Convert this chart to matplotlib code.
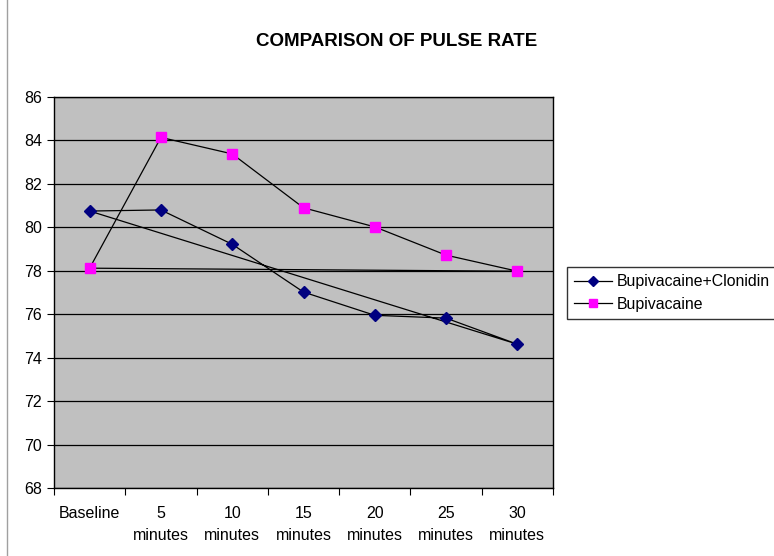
import matplotlib.pyplot as plt
from matplotlib.patches import Rectangle

plt.rcParams['font.family'] = ['Liberation Sans', 'DejaVu Sans']

categories = ['Baseline', '5\nminutes', '10\nminutes', '15\nminutes',
              '20\nminutes', '25\nminutes', '30\nminutes']
clonidine = [80.75, 80.8, 79.22, 77.02, 75.95, 75.82, 74.62]
bupivacaine = [78.12, 84.14, 83.38, 80.9, 80.02, 78.72, 77.98]

fig = plt.figure(figsize=(7.74, 5.56), dpi=100)
ax = fig.add_axes([54/774, 1 - 488/556, 499/774, 391/556])
ax.set_facecolor('#c0c0c0')

x = list(range(len(categories)))
# series drawn as closed loops, last point joined back to the first
xc = x + [x[0]]
ax.plot(xc, clonidine + [clonidine[0]], color='black', linewidth=0.9, zorder=3)
ax.plot(xc, bupivacaine + [bupivacaine[0]], color='black', linewidth=0.9, zorder=3)
ax.plot(x, clonidine, linestyle='none', marker='D', markersize=6.5,
        color='#000080', zorder=4)
ax.plot(x, bupivacaine, linestyle='none', marker='s', markersize=7,
        color='#ff00ff', zorder=4)

ax.set_xlim(-0.5, 6.5)
ax.set_ylim(68, 86)
ax.set_yticks(range(68, 87, 2))
ax.yaxis.grid(True, color='black', linewidth=0.9)
ax.set_axisbelow(True)

ax.set_xticks([i + 0.5 for i in range(-1, 7)], minor=False)
ax.set_xticklabels([])
ax.set_xticks(x, minor=True)
ax.set_xticklabels(categories, minor=True, fontsize=11.5, linespacing=1.55)
ax.tick_params(axis='x', which='minor', length=0, pad=13)
ax.tick_params(axis='x', which='major', length=5, direction='out')
ax.tick_params(axis='y', labelsize=11.5, length=5, direction='out')
for s in ax.spines.values():
    s.set_color('black')
    s.set_linewidth(1)

fig.text(397/774, 1 - 42/556, 'COMPARISON OF PULSE RATE', ha='center',
         va='center', fontsize=13.5, fontweight='bold')

# legend box
lh = [plt.Line2D([], [], color='black', linewidth=0.9, marker='D',
                 markersize=5, markerfacecolor='#000080', markeredgecolor='#000080'),
      plt.Line2D([], [], color='black', linewidth=0.9, marker='s',
                 markersize=6, markerfacecolor='#ff00ff', markeredgecolor='#ff00ff')]
leg = fig.legend(lh, ['Bupivacaine+Clonidin', 'Bupivacaine'], loc='center left',
                 bbox_to_anchor=(567/774, 1 - 293/556), fontsize=11.4,
                 frameon=True, fancybox=False, borderpad=0.45, handlelength=2.4,
                 handletextpad=0.3, labelspacing=0.45, borderaxespad=0)
leg.get_frame().set_edgecolor('black')
leg.get_frame().set_linewidth(1)

# chart area border
fig.patches.append(Rectangle((7/774, -0.1), 1.2, 1.2, transform=fig.transFigure,
                             fill=False, edgecolor='#a0a0a0', linewidth=1))

fig.savefig('out.png', dpi=100)
